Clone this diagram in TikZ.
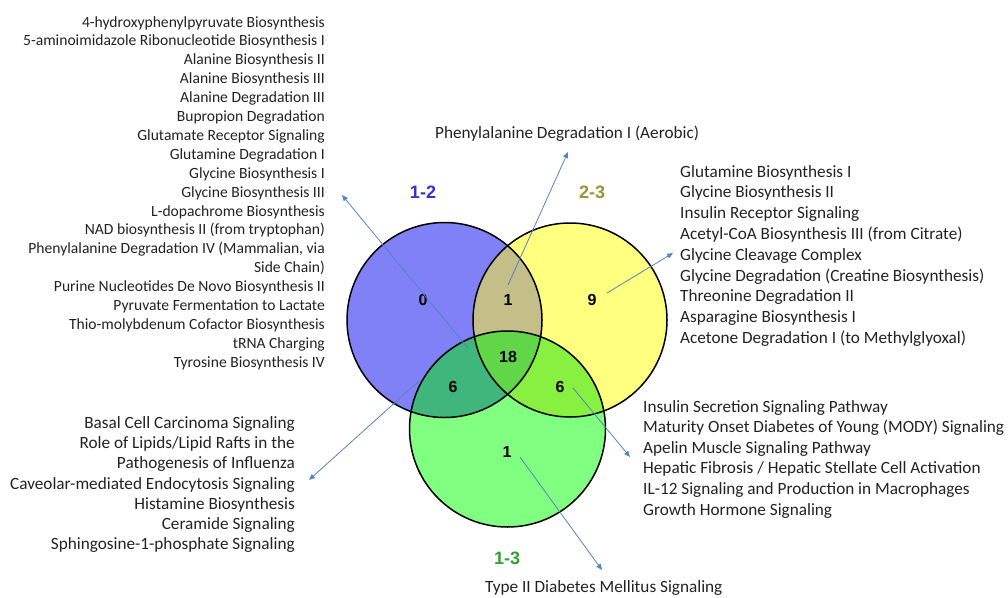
\documentclass[tikz,border=0pt]{standalone}
\usepackage{fontspec}
\setmainfont{Carlito}
\newfontfamily\numfont{Liberation Sans}
\usetikzlibrary{arrows.meta}
\definecolor{cblue}{RGB}{128,128,247}
\definecolor{cyellow}{RGB}{255,255,128}
\definecolor{cgreen}{RGB}{128,255,128}
\definecolor{cby}{RGB}{196,190,136}
\definecolor{cbg}{RGB}{64,182,124}
\definecolor{cyg}{RGB}{136,240,64}
\definecolor{call}{RGB}{96,214,72}
\definecolor{arrowc}{RGB}{84,132,196}
\definecolor{txt}{RGB}{34,34,34}
\definecolor{lab12}{RGB}{50,50,215}
\definecolor{lab23}{RGB}{150,150,50}
\definecolor{lab13}{RGB}{50,160,50}
\begin{document}
\begin{tikzpicture}[x=1pt,y=-1pt,
  lst/.style={inner sep=0pt, text=txt, font=\fontsize{17.2}{20.6}\selectfont},
  num/.style={inner sep=0pt, font=\numfont\bfseries\fontsize{16}{16}\selectfont, text=black},
  grp/.style={inner sep=0pt, font=\numfont\bfseries\fontsize{18}{18}\selectfont},
  ring/.style={circle, draw=black, line width=1.5pt, inner sep=0pt, minimum size=#1},
  conn/.style={draw=arrowc, line width=0.8pt, -{Triangle[length=6pt,width=5pt]}}]
\useasboundingbox (0,0) rectangle (1008,597);
% fills
\fill[cblue] (444.5,320) circle[radius=97.5];
\fill[cyellow] (570,320) circle[radius=97];
\fill[cgreen] (507.5,429) circle[radius=98];
\begin{scope}
  \clip (444.5,320) circle[radius=97.5];
  \fill[cby] (570,320) circle[radius=97];
  \fill[cbg] (507.5,429) circle[radius=98];
  \clip (570,320) circle[radius=97];
  \fill[call] (507.5,429) circle[radius=98];
\end{scope}
\begin{scope}
  \clip (570,320) circle[radius=97];
  \clip (507.5,429) circle[radius=98];
  \fill[cyg] (444.5,320) circle[radius=500];
  \clip (444.5,320) circle[radius=97.5];
  \fill[call] (444.5,320) circle[radius=500];
\end{scope}
% outlines
\node[ring=195pt] (A) at (444.5,320) {};
\node[ring=194pt] (B) at (570,320) {};
\node[ring=196pt] (C) at (507.5,429) {};
% counts
\node[num] (n0) at (423,300) {0};
\node[num] (n12) at (508,300) {1};
\node[num] (n9) at (592,300) {9};
\node[num] (n18) at (508,357) {18};
\node[num] (n6a) at (453,387) {6};
\node[num] (n6b) at (560,387) {6};
\node[num] (n1b) at (507,452) {1};
% group labels
\node[grp, text=lab12] (g12) at (423,192) {1-2};
\node[grp, text=lab23] (g23) at (592,192) {2-3};
\node[grp, text=lab13] (g13) at (507,558) {1-3};
% text lists
\node[lst, anchor=north east, align=right, font=\fontsize{15.6}{18.9}\selectfont] (L1) at (325,16) {4-hydroxyphenylpyruvate Biosynthesis\\
5-aminoimidazole Ribonucleotide Biosynthesis I\\
Alanine Biosynthesis II\\
Alanine Biosynthesis III\\
Alanine Degradation III\\
Bupropion Degradation\\
Glutamate Receptor Signaling\\
Glutamine Degradation I\\
Glycine Biosynthesis I\\
Glycine Biosynthesis III\\
L-dopachrome Biosynthesis\\
NAD biosynthesis II (from tryptophan)\\
Phenylalanine Degradation IV (Mammalian, via\\
Side Chain)\\
Purine Nucleotides De Novo Biosynthesis II\\
Pyruvate Fermentation to Lactate\\
Thio-molybdenum Cofactor Biosynthesis\\
tRNA Charging\\
Tyrosine Biosynthesis IV};
\node[lst, anchor=north east, align=right, font=\fontsize{17.2}{20.3}\selectfont] (L2) at (295,416) {Basal Cell Carcinoma Signaling\\
Role of Lipids/Lipid Rafts in the\\
Pathogenesis of Influenza\\
Caveolar-mediated Endocytosis Signaling\\
Histamine Biosynthesis\\
Ceramide Signaling\\
Sphingosine-1-phosphate Signaling};
\node[lst, anchor=west] (T1) at (435,134) {Phenylalanine Degradation I (Aerobic)};
\node[lst, anchor=north west, align=left, font=\fontsize{17.2}{20.8}\selectfont] (R1) at (680,165) {Glutamine Biosynthesis I\\
Glycine Biosynthesis II\\
Insulin Receptor Signaling\\
Acetyl-CoA Biosynthesis III (from Citrate)\\
Glycine Cleavage Complex\\
Glycine Degradation (Creatine Biosynthesis)\\
Threonine Degradation II\\
Asparagine Biosynthesis I\\
Acetone Degradation I (to Methylglyoxal)};
\node[lst, anchor=north west, align=left, font=\fontsize{17.2}{20.6}\selectfont] (R2) at (643,400) {Insulin Secretion Signaling Pathway\\
Maturity Onset Diabetes of Young (MODY) Signaling\\
Apelin Muscle Signaling Pathway\\
Hepatic Fibrosis / Hepatic Stellate Cell Activation\\
IL-12 Signaling and Production in Macrophages\\
Growth Hormone Signaling};
\node[lst, anchor=west] (T2) at (485,588) {Type II Diabetes Mellitus Signaling};
% connectors
\coordinate (s1) at (468,348); \coordinate (e1) at (342,195);
\coordinate (s2) at (508,285); \coordinate (e2) at (568,152);
\coordinate (s3) at (607,293); \coordinate (e3) at (673,253);
\coordinate (s4) at (573,388); \coordinate (e4) at (630,457);
\coordinate (s5) at (520,457); \coordinate (e5) at (602,570);
\coordinate (s6) at (420,380); \coordinate (e6) at (309,480);
\draw[conn] (s1) -- (e1);
\draw[conn] (s2) -- (e2);
\draw[conn] (s3) -- (e3);
\draw[conn] (s4) -- (e4);
\draw[conn] (s5) -- (e5);
\draw[conn] (s6) -- (e6);
\end{tikzpicture}
\end{document}
